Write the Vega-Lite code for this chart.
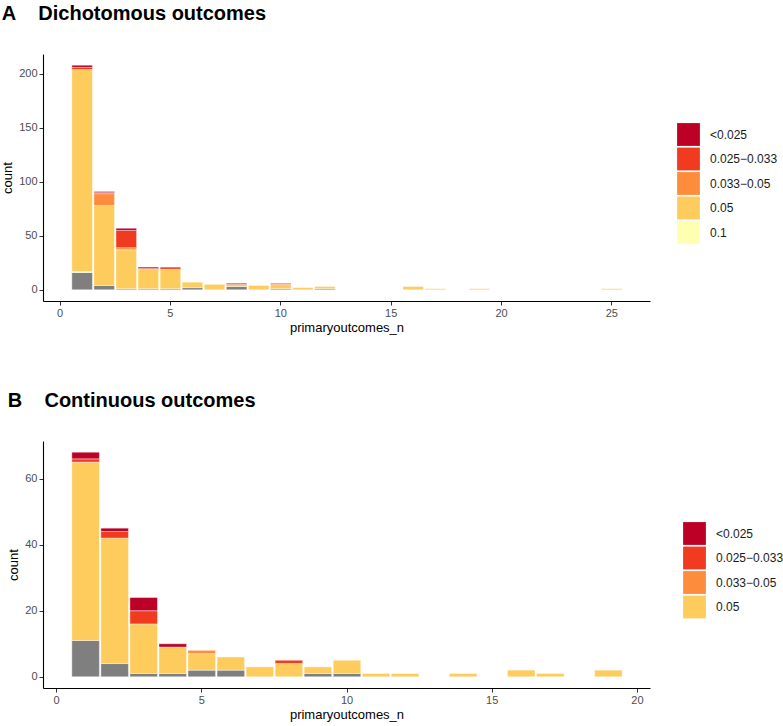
{
  "$schema": "https://vega.github.io/schema/vega-lite/v6.json",
  "padding": {"left": 1, "top": 4, "right": 5, "bottom": 5},
  "background": "white",
  "config": {
    "view": {"stroke": null},
    "font": "Liberation Sans",
    "axis": {
      "grid": false,
      "domainColor": "black",
      "domainWidth": 1.1,
      "tickColor": "#333333",
      "tickSize": 4,
      "labelFont": "Liberation Sans",
      "labelFontSize": 11,
      "labelColor": "#4D4D4D",
      "labelPadding": 2,
      "titleFont": "Liberation Sans",
      "titleFontSize": 13,
      "titleFontWeight": "normal",
      "titleColor": "black"
    },
    "legend": {
      "labelFont": "Liberation Sans",
      "labelFontSize": 12,
      "labelColor": "#1a1a1a",
      "symbolType": "square",
      "symbolSize": 520,
      "symbolStrokeWidth": 0,
      "symbolOpacity": 1,
      "rowPadding": 1.5,
      "labelOffset": 10,
      "padding": 0
    },
    "title": {"font": "Liberation Sans", "fontSize": 20, "fontWeight": "bold", "color": "black", "anchor": "start", "frame": "bounds"}
  },
  "datasets": {
    "levels": [
      {"threshold": "NA", "rank": 1},
      {"threshold": "0.1", "rank": 2},
      {"threshold": "0.05", "rank": 3},
      {"threshold": "0.033−0.05", "rank": 4},
      {"threshold": "0.025−0.033", "rank": 5},
      {"threshold": "<0.025", "rank": 6}
    ],
    "dich": [
      {"primaryoutcomes_n": 1, "threshold": "NA", "count": 16},
      {"primaryoutcomes_n": 1, "threshold": "0.1", "count": 1},
      {"primaryoutcomes_n": 1, "threshold": "0.05", "count": 187},
      {"primaryoutcomes_n": 1, "threshold": "0.025−0.033", "count": 2},
      {"primaryoutcomes_n": 1, "threshold": "<0.025", "count": 2},
      {"primaryoutcomes_n": 2, "threshold": "NA", "count": 4},
      {"primaryoutcomes_n": 2, "threshold": "0.05", "count": 74},
      {"primaryoutcomes_n": 2, "threshold": "0.033−0.05", "count": 11},
      {"primaryoutcomes_n": 2, "threshold": "0.025−0.033", "count": 1},
      {"primaryoutcomes_n": 2, "threshold": "<0.025", "count": 1},
      {"primaryoutcomes_n": 3, "threshold": "NA", "count": 1},
      {"primaryoutcomes_n": 3, "threshold": "0.05", "count": 36},
      {"primaryoutcomes_n": 3, "threshold": "0.033−0.05", "count": 2},
      {"primaryoutcomes_n": 3, "threshold": "0.025−0.033", "count": 16},
      {"primaryoutcomes_n": 3, "threshold": "<0.025", "count": 2},
      {"primaryoutcomes_n": 4, "threshold": "NA", "count": 1},
      {"primaryoutcomes_n": 4, "threshold": "0.05", "count": 18},
      {"primaryoutcomes_n": 4, "threshold": "0.025−0.033", "count": 1},
      {"primaryoutcomes_n": 4, "threshold": "<0.025", "count": 1},
      {"primaryoutcomes_n": 5, "threshold": "NA", "count": 1},
      {"primaryoutcomes_n": 5, "threshold": "0.05", "count": 18},
      {"primaryoutcomes_n": 5, "threshold": "0.025−0.033", "count": 2},
      {"primaryoutcomes_n": 6, "threshold": "NA", "count": 2},
      {"primaryoutcomes_n": 6, "threshold": "0.05", "count": 5},
      {"primaryoutcomes_n": 7, "threshold": "0.05", "count": 5},
      {"primaryoutcomes_n": 8, "threshold": "NA", "count": 3},
      {"primaryoutcomes_n": 8, "threshold": "0.05", "count": 2},
      {"primaryoutcomes_n": 8, "threshold": "<0.025", "count": 1},
      {"primaryoutcomes_n": 9, "threshold": "0.05", "count": 4},
      {"primaryoutcomes_n": 10, "threshold": "NA", "count": 1},
      {"primaryoutcomes_n": 10, "threshold": "0.05", "count": 4},
      {"primaryoutcomes_n": 10, "threshold": "0.025−0.033", "count": 1},
      {"primaryoutcomes_n": 11, "threshold": "0.05", "count": 2},
      {"primaryoutcomes_n": 12, "threshold": "NA", "count": 1},
      {"primaryoutcomes_n": 12, "threshold": "0.05", "count": 2},
      {"primaryoutcomes_n": 16, "threshold": "0.05", "count": 3},
      {"primaryoutcomes_n": 17, "threshold": "0.05", "count": 1},
      {"primaryoutcomes_n": 19, "threshold": "0.05", "count": 1},
      {"primaryoutcomes_n": 25, "threshold": "0.05", "count": 1}
    ],
    "cont": [
      {"primaryoutcomes_n": 1, "threshold": "NA", "count": 11},
      {"primaryoutcomes_n": 1, "threshold": "0.05", "count": 54},
      {"primaryoutcomes_n": 1, "threshold": "0.025−0.033", "count": 1},
      {"primaryoutcomes_n": 1, "threshold": "<0.025", "count": 2},
      {"primaryoutcomes_n": 2, "threshold": "NA", "count": 4},
      {"primaryoutcomes_n": 2, "threshold": "0.05", "count": 38},
      {"primaryoutcomes_n": 2, "threshold": "0.025−0.033", "count": 2},
      {"primaryoutcomes_n": 2, "threshold": "<0.025", "count": 1},
      {"primaryoutcomes_n": 3, "threshold": "NA", "count": 1},
      {"primaryoutcomes_n": 3, "threshold": "0.05", "count": 15},
      {"primaryoutcomes_n": 3, "threshold": "0.025−0.033", "count": 4},
      {"primaryoutcomes_n": 3, "threshold": "<0.025", "count": 4},
      {"primaryoutcomes_n": 4, "threshold": "NA", "count": 1},
      {"primaryoutcomes_n": 4, "threshold": "0.05", "count": 8},
      {"primaryoutcomes_n": 4, "threshold": "<0.025", "count": 1},
      {"primaryoutcomes_n": 5, "threshold": "NA", "count": 2},
      {"primaryoutcomes_n": 5, "threshold": "0.05", "count": 5},
      {"primaryoutcomes_n": 5, "threshold": "0.033−0.05", "count": 1},
      {"primaryoutcomes_n": 6, "threshold": "NA", "count": 2},
      {"primaryoutcomes_n": 6, "threshold": "0.05", "count": 4},
      {"primaryoutcomes_n": 7, "threshold": "0.05", "count": 3},
      {"primaryoutcomes_n": 8, "threshold": "0.05", "count": 4},
      {"primaryoutcomes_n": 8, "threshold": "0.025−0.033", "count": 1},
      {"primaryoutcomes_n": 9, "threshold": "NA", "count": 1},
      {"primaryoutcomes_n": 9, "threshold": "0.05", "count": 2},
      {"primaryoutcomes_n": 10, "threshold": "NA", "count": 1},
      {"primaryoutcomes_n": 10, "threshold": "0.05", "count": 4},
      {"primaryoutcomes_n": 11, "threshold": "0.05", "count": 1},
      {"primaryoutcomes_n": 12, "threshold": "0.05", "count": 1},
      {"primaryoutcomes_n": 14, "threshold": "0.05", "count": 1},
      {"primaryoutcomes_n": 16, "threshold": "0.05", "count": 2},
      {"primaryoutcomes_n": 17, "threshold": "0.05", "count": 1},
      {"primaryoutcomes_n": 19, "threshold": "0.05", "count": 2}
    ]
  },
  "vconcat": [
    {
      "title": {"text": "A\u00a0\u00a0\u00a0\u00a0Dichotomous outcomes", "offset": 30, "dx": 0},
      "data": {"name": "dich"},
      "transform": [
        {"lookup": "threshold", "from": {"data": {"name": "levels"}, "key": "threshold", "fields": ["rank"]}}
      ],
      "width": 607,
      "height": 247,
      "mark": {"type": "bar", "binSpacing": 1.5, "stroke": "white", "strokeWidth": 0.4},
      "encoding": {
        "x": {
          "field": "primaryoutcomes_n", "type": "quantitative",
          "bin": {"step": 1, "extent": [0.5, 25.5], "nice": false},
          "scale": {"domain": [-0.75, 26.75], "nice": false, "zero": false},
          "axis": {"values": [0, 5, 10, 15, 20, 25], "format": "d", "title": "primaryoutcomes_n", "titlePadding": 3}
        },
        "y": {
          "aggregate": "sum", "field": "count", "type": "quantitative",
          "scale": {"domain": [-10.4, 218.4], "nice": false, "zero": false},
          "axis": {"values": [0, 50, 100, 150, 200], "title": "count", "titlePadding": 4}
        },
        "order": {"field": "rank", "type": "quantitative", "sort": "ascending"},
        "color": {
          "field": "threshold", "type": "nominal",
          "scale": {
            "domain": ["<0.025", "0.025−0.033", "0.033−0.05", "0.05", "0.1", "NA"],
            "range": ["#BD0026", "#F03B20", "#FD8D3C", "#FECC5C", "#FFFFB2", "#7F7F7F"]
          },
          "legend": {"title": null, "orient": "none", "legendX": 634, "legendY": 69, "values": ["<0.025", "0.025−0.033", "0.033−0.05", "0.05", "0.1"]}
        }
      }
    },
    {
      "title": {"text": "B\u00a0\u00a0\u00a0\u00a0Continuous outcomes", "offset": 30, "dx": 0},
      "data": {"name": "cont"},
      "transform": [
        {"lookup": "threshold", "from": {"data": {"name": "levels"}, "key": "threshold", "fields": ["rank"]}}
      ],
      "width": 607,
      "height": 247,
      "mark": {"type": "bar", "binSpacing": 1.5, "stroke": "white", "strokeWidth": 0.4},
      "encoding": {
        "x": {
          "field": "primaryoutcomes_n", "type": "quantitative",
          "bin": {"step": 1, "extent": [0.5, 19.5], "nice": false},
          "scale": {"domain": [-0.45, 20.45], "nice": false, "zero": false},
          "axis": {"values": [0, 5, 10, 15, 20], "format": "d", "title": "primaryoutcomes_n", "titlePadding": 3}
        },
        "y": {
          "aggregate": "sum", "field": "count", "type": "quantitative",
          "scale": {"domain": [-3.4, 71.4], "nice": false, "zero": false},
          "axis": {"values": [0, 20, 40, 60], "title": "count", "titlePadding": 4}
        },
        "order": {"field": "rank", "type": "quantitative", "sort": "ascending"},
        "color": {
          "field": "threshold", "type": "nominal",
          "scale": {
            "domain": ["<0.025", "0.025−0.033", "0.033−0.05", "0.05", "0.1", "NA"],
            "range": ["#BD0026", "#F03B20", "#FD8D3C", "#FECC5C", "#FFFFB2", "#7F7F7F"]
          },
          "legend": {"title": null, "orient": "none", "legendX": 640, "legendY": 81, "values": ["<0.025", "0.025−0.033", "0.033−0.05", "0.05"]}
        }
      }
    }
  ],
  "spacing": 57,
  "resolve": {"scale": {"color": "independent", "x": "independent", "y": "independent"}, "legend": {"color": "independent"}}
}
